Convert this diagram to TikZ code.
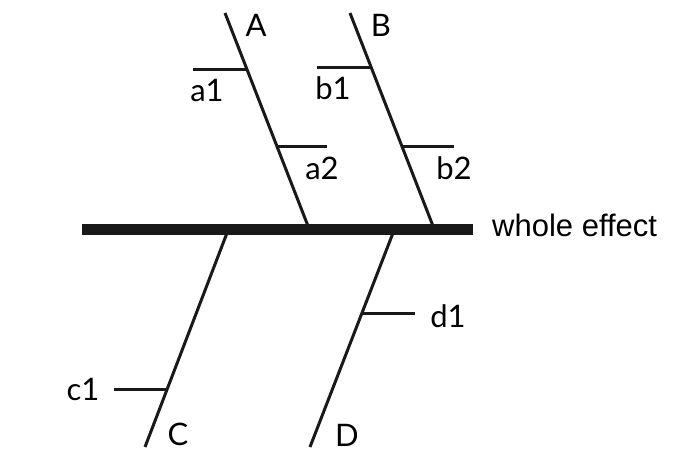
\documentclass[tikz,border=0pt]{standalone}
\usepackage{fontspec}
\setmainfont{Lato}
\newfontfamily\effectfont[Ligatures=NoCommon]{Liberation Sans}
\usetikzlibrary{calc}
\tikzset{
  spine/.style={line width=11bp, draw=black!90},
  bone/.style={line width=3bp, draw=black!90},
  twig/.style={line width=3bp, draw=black!90},
  causelbl/.style={anchor=base, inner sep=0pt, font=\fontsize{31bp}{35bp}\selectfont},
  effectlbl/.style={anchor=base west, inner sep=0pt, font=\effectfont\fontsize{31bp}{35bp}\selectfont},
}
\begin{document}
\begin{tikzpicture}[x=1bp,y=-1bp]
  \useasboundingbox (0,0) rectangle (688,462);
  % main spine
  \coordinate (tail) at (82,229.5);
  \coordinate (head) at (473,229.5);
  \draw[spine] (tail) -- (head);
  \node[effectlbl] (effect) at (492,237) {whole effect};
  % bones above the spine
  \coordinate (Atip) at (225,13);  \coordinate (Aroot) at (308,226);
  \coordinate (Btip) at (350,13);  \coordinate (Broot) at (433,226);
  \draw[bone] (Atip) -- (Aroot);
  \draw[bone] (Btip) -- (Broot);
  \node[causelbl] (A) at (256,37) {A};
  \node[causelbl] (B) at (381,37) {B};
  \coordinate (a1on) at ($(Atip)!0.263!(Aroot)$); \coordinate (a1end) at ($(a1on)+(-54,0)$);
  \coordinate (a2on) at ($(Atip)!0.629!(Aroot)$); \coordinate (a2end) at ($(a2on)+(50,0)$);
  \coordinate (b1on) at ($(Btip)!0.258!(Broot)$); \coordinate (b1end) at ($(b1on)+(-54,0)$);
  \coordinate (b2on) at ($(Btip)!0.629!(Broot)$); \coordinate (b2end) at ($(b2on)+(52,0)$);
  \draw[twig] (a1on) -- (a1end); \draw[twig] (a2on) -- (a2end);
  \draw[twig] (b1on) -- (b1end); \draw[twig] (b2on) -- (b2end);
  \node[causelbl] (a1) at (207,102) {a1};
  \node[causelbl] (a2) at (322,180) {a2};
  \node[causelbl] (b1) at (333,100) {b1};
  \node[causelbl] (b2) at (454,180) {b2};
  % bones below the spine
  \coordinate (Croot) at (227,233); \coordinate (Ctip) at (145,447);
  \coordinate (Droot) at (393,233); \coordinate (Dtip) at (310,447);
  \draw[bone] (Croot) -- (Ctip);
  \draw[bone] (Droot) -- (Dtip);
  \node[causelbl] (C) at (178,445) {C};
  \node[causelbl] (D) at (347,446) {D};
  \coordinate (c1on) at ($(Croot)!0.729!(Ctip)$); \coordinate (c1end) at ($(c1on)+(-53,0)$);
  \coordinate (d1on) at ($(Droot)!0.374!(Dtip)$); \coordinate (d1end) at ($(d1on)+(53,0)$);
  \draw[twig] (c1on) -- (c1end); \draw[twig] (d1on) -- (d1end);
  \node[causelbl] (c1) at (83,400) {c1};
  \node[causelbl] (d1) at (448,328) {d1};
\end{tikzpicture}
\end{document}
